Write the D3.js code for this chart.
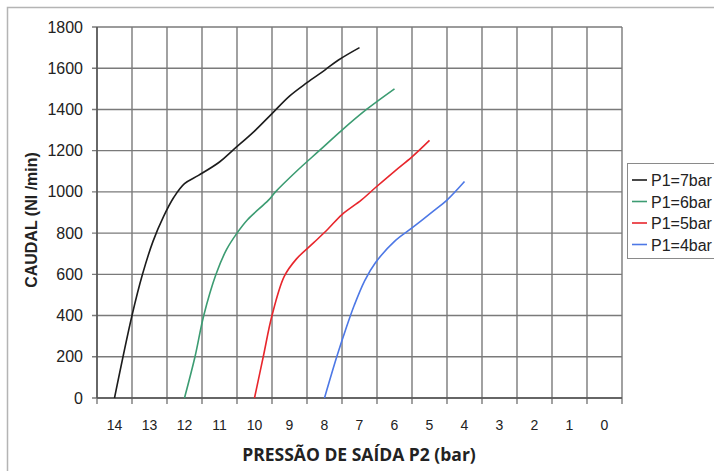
<!DOCTYPE html>
<html>
<head>
<meta charset="utf-8">
<script src="https://cdn.jsdelivr.net/npm/d3@7"></script>
<style>
body { margin: 0; background: #fff; }
</style>
</head>
<body>
<svg></svg>
<script>
var svgWidth = 714;
var svgHeight = 471;

// pressure ticks (bar) and flow ticks (Nl/min)
var pressureTicks = [14, 13, 12, 11, 10, 9, 8, 7, 6, 5, 4, 3, 2, 1, 0];
var flowTicks = [0, 200, 400, 600, 800, 1000, 1200, 1400, 1600, 1800];

var seriesNames = ["P1=7bar", "P1=6bar", "P1=5bar", "P1=4bar"];
var seriesColors = ["#1c1c1c", "#3c9c72", "#e8262c", "#4d78e6"];

var p1_7 = [[14, 0], [13.5, 400], [13.2, 600], [12.9, 760], [12.6, 880], [12.3, 975],
    [12, 1040], [11.6, 1080], [11, 1145], [10.6, 1205], [10, 1295], [9.5, 1380], [9, 1465],
    [8.5, 1530], [8, 1590], [7.6, 1640], [7, 1700]];
var p1_6 = [[12, 0], [11.7, 200], [11.45, 400], [11.1, 600], [10.8, 720], [10.5, 800], [10.2, 865],
    [9.6, 960], [9.4, 1000], [8.8, 1100], [8.15, 1200], [7.5, 1300], [6.8, 1400], [6, 1500]];
var p1_5 = [[10, 0], [9.75, 200], [9.5, 400], [9.15, 590], [8.8, 675], [8.3, 755], [7.9, 820],
    [7.5, 890], [6.95, 960], [6.55, 1020], [6, 1100], [5.5, 1170], [5, 1250]];
var p1_4 = [[8, 0], [7.65, 200], [7.4, 330], [7.15, 450], [6.85, 570], [6.55, 655], [6, 760],
    [5.5, 825], [4.9, 905], [4.5, 960], [4, 1050]];
var seriesData = [p1_7, p1_6, p1_5, p1_4];

var plotLeft = 97, plotRight = 622, plotTop = 27, plotBottom = 398;

var svg =
    d3.select("svg")
    .attr("width", svgWidth)
    .attr("height", svgHeight)
    .style("font-family", "Arial, 'Liberation Sans', sans-serif");

// outer chart frame (clipped by the picture on the right and bottom)
svg.append("rect")
    .attr("x", 7.5).attr("y", 7.5)
    .attr("width", 900).attr("height", 700)
    .attr("fill", "none")
    .attr("stroke", "#b4b4b4")
    .attr("stroke-width", 1.5);

var x = d3.scaleLinear().domain([14.5, -0.5]).range([plotLeft, plotRight]);
var y = d3.scaleLinear().domain([0, 1800]).range([plotBottom, plotTop]);

var gridX = d3.range(15, -1, -1).map(function (d) { return d - 0.5; });

// grid
svg.append("g")
    .selectAll("line")
    .data(flowTicks)
    .join("line")
    .attr("x1", plotLeft - 5).attr("x2", plotRight)
    .attr("y1", function (d) { return y(d); })
    .attr("y2", function (d) { return y(d); })
    .attr("stroke", "#7a7a7a")
    .attr("stroke-width", 1.4);

svg.append("g")
    .selectAll("line")
    .data(gridX)
    .join("line")
    .attr("x1", function (d) { return x(d); })
    .attr("x2", function (d) { return x(d); })
    .attr("y1", plotTop)
    .attr("y2", plotBottom + 6)
    .attr("stroke", "#7a7a7a")
    .attr("stroke-width", 1.4);

// axes lines
svg.append("line")
    .attr("x1", plotLeft).attr("x2", plotRight)
    .attr("y1", plotBottom).attr("y2", plotBottom)
    .attr("stroke", "#555").attr("stroke-width", 1.5);
svg.append("line")
    .attr("x1", plotLeft).attr("x2", plotLeft)
    .attr("y1", plotTop).attr("y2", plotBottom)
    .attr("stroke", "#555").attr("stroke-width", 1.5);

// tick labels
svg.append("g")
    .selectAll("text")
    .data(flowTicks)
    .join("text")
    .attr("x", 83)
    .attr("y", function (d) { return y(d) + 5.5; })
    .attr("text-anchor", "end")
    .attr("font-size", 16)
    .attr("fill", "#222")
    .text(function (d) { return d; });

svg.append("g")
    .selectAll("text")
    .data(pressureTicks)
    .join("text")
    .attr("x", function (d) { return x(d); })
    .attr("y", 430)
    .attr("text-anchor", "middle")
    .attr("font-size", 14)
    .attr("fill", "#222")
    .text(function (d) { return d; });

// axis titles
svg.append("text")
    .attr("x", 359).attr("y", 461)
    .attr("text-anchor", "middle")
    .attr("font-family", "'Open Sans', sans-serif")
    .attr("font-weight", "bold")
    .attr("font-size", 17.5)
    .attr("fill", "#222")
    .text("PRESSÃO DE SAÍDA P2 (bar)");

svg.append("text")
    .attr("transform", "translate(37,220) rotate(-90)")
    .attr("text-anchor", "middle")
    .attr("font-weight", "bold")
    .attr("font-size", 16)
    .attr("fill", "#222")
    .text("CAUDAL (Nl /min)");

// curves
var line = d3.line()
    .x(function (d) { return x(d[0]); })
    .y(function (d) { return y(d[1]); })
    .curve(d3.curveCatmullRom.alpha(0.5));

svg.append("g")
    .selectAll("path")
    .data(seriesData)
    .join("path")
    .attr("d", line)
    .attr("fill", "none")
    .attr("stroke", function (d, i) { return seriesColors[i]; })
    .attr("stroke-width", 1.6);

// legend
var legend = svg.append("g");
legend.append("rect")
    .attr("x", 627.5).attr("y", 163.5)
    .attr("width", 120).attr("height", 95)
    .attr("fill", "#fff")
    .attr("stroke", "#8a8a8a");

var legendItems = legend.selectAll("g.item")
    .data(seriesNames)
    .join("g")
    .attr("class", "item")
    .attr("transform", function (d, i) { return "translate(0," + (180 + i * 21.5) + ")"; });

legendItems.append("line")
    .attr("x1", 632).attr("x2", 647)
    .attr("y1", 0).attr("y2", 0)
    .attr("stroke", function (d, i) { return seriesColors[i]; })
    .attr("stroke-width", 1.6);

legendItems.append("text")
    .attr("x", 651).attr("y", 6)
    .attr("font-size", 16)
    .attr("fill", "#222")
    .text(function (d) { return d; });
</script>
</body>
</html>
